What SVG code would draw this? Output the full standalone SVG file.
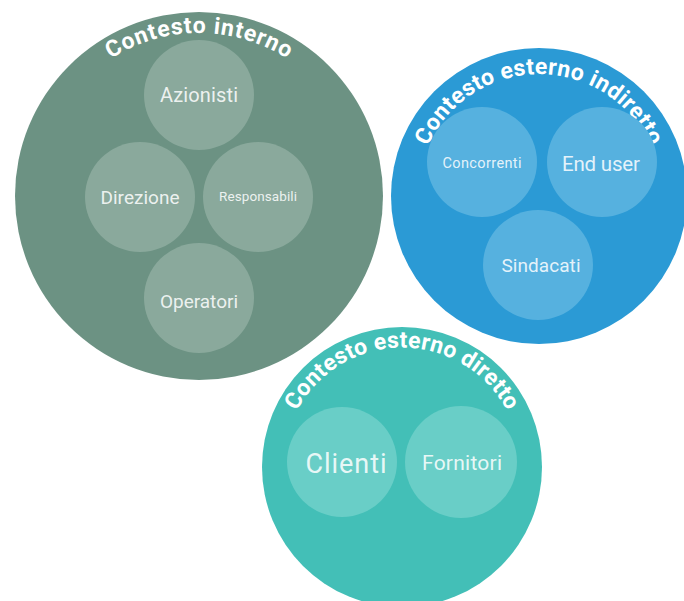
<svg xmlns="http://www.w3.org/2000/svg" xmlns:xlink="http://www.w3.org/1999/xlink" width="684" height="601" viewBox="0 0 684 601">
<style>
.title{font-family:Roboto,"Liberation Sans",sans-serif;font-weight:700;font-size:23px;fill:#ffffff;}
.lbl{font-family:Roboto,"Liberation Sans",sans-serif;font-weight:400;fill:#ffffff;fill-opacity:0.86;text-anchor:middle;}
.g-outer{fill:#6c9283;}
.g-inner{fill:#8aa99c;}
.b-outer{fill:#2b9ad5;}
.b-inner{fill:#56b1df;}
.t-outer{fill:#43bfb7;}
.t-inner{fill:#69cec7;}
</style>
<defs>
<path id="arcG" d="M 74.1,91.2 A 163 163 0 0 1 323.9,91.2"/>
<path id="arcB" d="M 421.2,164.4 A 122 122 0 0 1 656.8,164.4"/>
<path id="arcT" d="M 287,436 A 119 119 0 0 1 517,436"/>
</defs>
<rect width="684" height="601" fill="#ffffff"/>

<g id="interno">
<circle class="g-outer" cx="199" cy="196" r="184"/>
<text class="title" font-size="24"><textPath xlink:href="#arcG" href="#arcG" startOffset="50%" text-anchor="middle" textLength="186" lengthAdjust="spacing">Contesto interno</textPath></text>
</g>
<g id="azionisti"><circle class="g-inner" cx="199" cy="95" r="55"/><text class="lbl" x="199" y="102" font-size="20" textLength="78" lengthAdjust="spacing">Azionisti</text></g>
<g id="direzione"><circle class="g-inner" cx="140" cy="197" r="55"/><text class="lbl" x="140" y="204" font-size="19" textLength="79" lengthAdjust="spacing">Direzione</text></g>
<g id="responsabili"><circle class="g-inner" cx="258" cy="197" r="55"/><text class="lbl" x="258" y="201" font-size="13.5" textLength="78" lengthAdjust="spacing">Responsabili</text></g>
<g id="operatori"><circle class="g-inner" cx="199" cy="298" r="55"/><text class="lbl" x="199" y="308" font-size="19" textLength="78" lengthAdjust="spacing">Operatori</text></g>

<g id="indiretto">
<circle class="b-outer" cx="539" cy="196" r="148"/>
<text class="title"><textPath xlink:href="#arcB" href="#arcB" startOffset="50%" text-anchor="middle" textLength="280" lengthAdjust="spacing">Contesto esterno indiretto</textPath></text>
</g>
<g id="concorrenti"><circle class="b-inner" cx="482" cy="162" r="55"/><text class="lbl" x="482" y="168" font-size="14.5" textLength="79" lengthAdjust="spacing">Concorrenti</text></g>
<g id="enduser"><circle class="b-inner" cx="602" cy="162" r="55"/><text class="lbl" x="601" y="171" font-size="20.5" textLength="78" lengthAdjust="spacing">End user</text></g>
<g id="sindacati"><circle class="b-inner" cx="538" cy="265" r="55"/><text class="lbl" x="541" y="272" font-size="19" textLength="79" lengthAdjust="spacing">Sindacati</text></g>

<g id="diretto">
<circle class="t-outer" cx="402" cy="467" r="140"/>
<text class="title"><textPath xlink:href="#arcT" href="#arcT" startOffset="50%" text-anchor="middle" textLength="258" lengthAdjust="spacing">Contesto esterno diretto</textPath></text>
</g>
<g id="clienti"><circle class="t-inner" cx="342" cy="462" r="55"/><text class="lbl" x="346" y="473" font-size="27" textLength="81" lengthAdjust="spacing">Clienti</text></g>
<g id="fornitori"><circle class="t-inner" cx="461" cy="462" r="56"/><text class="lbl" x="462" y="470" font-size="21" textLength="80" lengthAdjust="spacing">Fornitori</text></g>
<g id="connectors"></g>
</svg>
